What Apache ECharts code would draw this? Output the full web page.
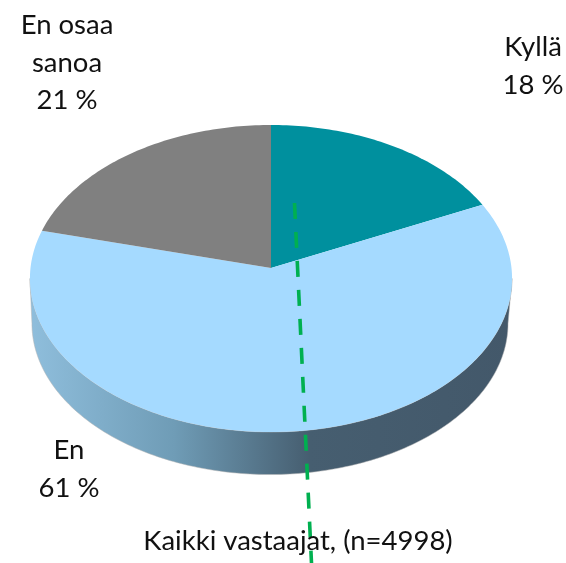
<!DOCTYPE html>
<html>
<head>
<meta charset="utf-8">
<style>html,body{margin:0;padding:0;background:#fff}#c{width:566px;height:563px}</style>
<script src="https://cdn.jsdelivr.net/npm/echarts@6/dist/echarts.min.js"></script>
</head>
<body>
<div id="c"></div>
<script>
var categories = ['Kyllä', 'En', 'En osaa\nsanoa'];
var values = [18, 61, 21];
var sliceColors = ['#00909e', '#a5daff', '#808080'];
var footnote = 'Kaikki vastaajat, (n=4998)';
var FONT = 'Lato, "Open Sans", sans-serif';
var total = values.reduce(function (a, b) { return a + b; }, 0);

// perspective disc: apex, radii and foreshortening of the tilted pie
var top_ = { cx: 271, cy: 268, rx: 240.5, ry: 152.8, k: 0.0684 };
var bottom_ = { cx: 270, cy: 313, rx: 237.5, ry: 150.5, k: 0.0684 };
function project(d, deg) {
  var a = deg * Math.PI / 180, u = Math.sin(a), v = Math.cos(a), w = 1 + d.k * v;
  return [d.cx + d.rx * u / w, d.cy - d.ry * v / w];
}
function arc(d, from, to) {
  var pts = [], n = Math.max(2, Math.ceil(Math.abs(to - from)));
  for (var i = 0; i <= n; i++) pts.push(project(d, from + (to - from) * i / n));
  return pts;
}
var labelPos = [[533, 66], [69, 469], [67, 63]];

var chart = echarts.init(document.getElementById('c'), null, { renderer: 'canvas' });
chart.setOption({
  animation: false,
  title: {
    text: footnote, left: 293, top: 522, textAlign: 'center',
    textStyle: { fontFamily: FONT, fontSize: 27.5, fontWeight: 'normal', color: '#111' }
  },
  graphic: [{
    type: 'line', z: 5,
    shape: { x1: 294.5, y1: 203, x2: 311.5, y2: 563 },
    style: { stroke: '#00b050', lineWidth: 3.6, lineDash: [16, 13] }
  }],
  series: [{
    type: 'custom',
    coordinateSystem: 'none',
    silent: true,
    z: 2,
    data: values.map(function (v) { return [v]; }),
    renderItem: function (params, api) {
      var i = params.dataIndex, before = 0;
      for (var j = 0; j < i; j++) before += values[j];
      var start = before / total * 360, end = (before + api.value(0)) / total * 360;
      var children = [];
      if (i === 1) {
        var wall = arc(top_, 93.9, 266.1).concat(arc(bottom_, 266.1, 93.9));
        children.push({
          type: 'polygon', shape: { points: wall },
          style: {
            fill: new echarts.graphic.LinearGradient(0, 0, 1, 0, [
              { offset: 0, color: '#8fbedc' },
              { offset: 0.3, color: '#6f9cb6' },
              { offset: 0.58, color: '#465e70' },
              { offset: 1, color: '#43586a' }
            ]),
            stroke: '#b5b5b5', lineWidth: 0.5
          }
        });
      }
      children.push({
        type: 'polygon',
        shape: { points: [[top_.cx, top_.cy]].concat(arc(top_, start, end)) },
        style: { fill: sliceColors[i] }
      });
      return { type: 'group', children: children };
    }
  }, {
    type: 'custom',
    coordinateSystem: 'none',
    silent: true,
    z: 10,
    data: values.map(function (v) { return [v]; }),
    renderItem: function (params, api) {
      var i = params.dataIndex;
      return {
        type: 'text',
        style: {
          x: labelPos[i][0], y: labelPos[i][1],
          text: categories[i] + '\n' + api.value(0) + ' %',
          align: 'center', verticalAlign: 'middle',
          font: '27.5px ' + FONT, lineHeight: 37.5, fill: '#111'
        }
      };
    }
  }]
});
</script>
</body>
</html>
